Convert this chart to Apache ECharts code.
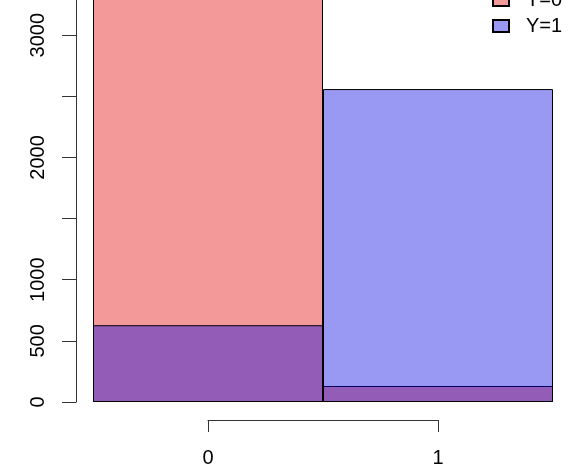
<!DOCTYPE html>
<html>
<head>
<meta charset="utf-8">
<script src="https://cdn.jsdelivr.net/npm/echarts@6/dist/echarts.min.js"></script>
<style>html,body{margin:0;padding:0;background:#fff;}#c{width:574px;height:470px;}</style>
</head>
<body>
<div id="c"></div>
<script>
var categories = ['0', '1'];
var seriesNames = ['Y=0', 'Y=1'];
var countsY0 = [3450, 131];
var countsY1 = [628, 2559];
var yLabeledTicks = [0, 500, 1000, 2000, 3000];

var FONT = 'Liberation Sans, Arial, sans-serif';
var chart = echarts.init(document.getElementById('c'), null, {renderer: 'canvas'});
chart.setOption({
  animation: false,
  backgroundColor: '#ffffff',
  grid: [
    {left: 93, right: 21, top: -26, bottom: 68, outerBoundsMode: 'none', containLabel: false},
    {left: 208, right: 136, top: 400, height: 20, outerBoundsMode: 'none', containLabel: false}
  ],
  legend: {
    orient: 'vertical',
    left: 492,
    top: -10,
    padding: 0,
    itemWidth: 16,
    itemHeight: 12,
    itemGap: 6,
    icon: 'rect',
    data: seriesNames,
    textStyle: {fontFamily: FONT, fontSize: 20, color: '#000', padding: [0, 0, 0, 12]}
  },
  xAxis: [
    {
      type: 'category', gridIndex: 0, data: categories,
      axisLine: {show: false}, axisTick: {show: false}, axisLabel: {show: false}, splitLine: {show: false}
    },
    {
      type: 'value', gridIndex: 1, min: 0, max: 1, interval: 1, position: 'bottom',
      axisLine: {show: true, lineStyle: {color: '#333', width: 1}},
      axisTick: {show: true, inside: false, length: 12, lineStyle: {color: '#333', width: 1}},
      axisLabel: {show: true, margin: 28, fontFamily: FONT, fontSize: 20, color: '#000'},
      splitLine: {show: false}
    }
  ],
  yAxis: [
    {
      type: 'value', gridIndex: 0, min: 0, max: 3500, interval: 500, offset: 17,
      axisLine: {show: true, lineStyle: {color: '#333', width: 1}},
      axisTick: {show: true, inside: false, length: 14, lineStyle: {color: '#333', width: 1}},
      axisLabel: {
        show: true, rotate: 90, margin: 28, fontFamily: FONT, fontSize: 20, color: '#000',
        formatter: function (v) { return yLabeledTicks.indexOf(v) >= 0 ? String(v) : ''; }
      },
      splitLine: {show: false}
    },
    {
      type: 'value', gridIndex: 1, min: 0, max: 1, show: false
    }
  ],
  series: [
    {
      name: seriesNames[0], type: 'bar', xAxisIndex: 0, yAxisIndex: 0,
      data: countsY0, barGap: '-100%', barCategoryGap: '0%',
      itemStyle: {color: 'rgba(227,0,0,0.4)', borderColor: '#000', borderWidth: 1}
    },
    {
      name: seriesNames[1], type: 'bar', xAxisIndex: 0, yAxisIndex: 0,
      data: countsY1, barGap: '-100%', barCategoryGap: '0%',
      itemStyle: {color: 'rgba(0,0,227,0.4)', borderColor: '#000', borderWidth: 1}
    }
  ]
});
</script>
</body>
</html>
